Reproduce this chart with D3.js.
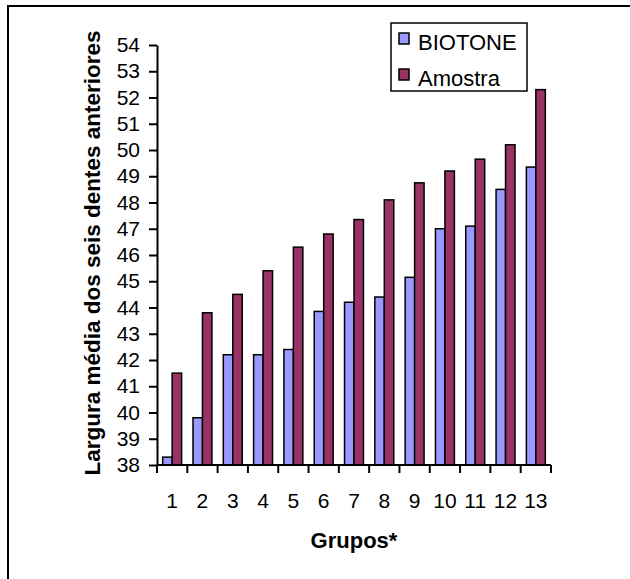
<!DOCTYPE html>
<html>
<head>
<meta charset="utf-8">
<script src="https://cdn.jsdelivr.net/npm/d3@7"></script>
<style>
  html, body { margin: 0; padding: 0; background: #fff; }
  svg { display: block; font-family: "Liberation Sans", Arial, sans-serif; }
</style>
</head>
<body>
<svg id="chart" width="630" height="579"></svg>
<script>
// Groups on the x axis
const groups = ["1","2","3","4","5","6","7","8","9","10","11","12","13"];
// Series names
const seriesNames = ["BIOTONE", "Amostra"];
// Mean width of the six anterior teeth per group
const biotone = [38.3, 39.8, 42.2, 42.2, 42.4, 43.85, 44.2, 44.4, 45.15, 47.0, 47.1, 48.5, 49.35];
const amostra = [41.5, 43.8, 44.5, 45.4, 46.3, 46.8, 47.35, 48.1, 48.75, 49.2, 49.65, 50.2, 52.3];
// Y tick values
const yTicks = d3.range(38, 55, 1);

const colors = { "BIOTONE": "#9999FF", "Amostra": "#993366" };

const svg = d3.select("#chart");

// outer chart frame
svg.append("rect")
  .attr("x", 8).attr("y", 6)
  .attr("width", 700).attr("height", 700)
  .attr("fill", "none").attr("stroke", "#000").attr("stroke-width", 2);

const plot = { left: 157, right: 551, top: 45, bottom: 465 };

const x0 = d3.scaleBand().domain(groups).range([plot.left, plot.right]).padding(0);
const x1 = d3.scaleBand().domain(seriesNames).range([0, x0.bandwidth()])
  .paddingInner(0).paddingOuter(0.6);
const y = d3.scaleLinear().domain([38, 54]).range([plot.bottom, plot.top]);

const rows = groups.map((g, i) => ({ group: g, values: [
  { key: "BIOTONE", value: biotone[i] },
  { key: "Amostra", value: amostra[i] }
]}));

// bars
const gBars = svg.append("g");
gBars.selectAll("g").data(rows).join("g")
  .attr("transform", d => `translate(${x0(d.group)},0)`)
  .selectAll("rect").data(d => d.values).join("rect")
  .attr("x", d => x1(d.key))
  .attr("y", d => y(d.value))
  .attr("width", x1.bandwidth())
  .attr("height", d => y(38) - y(d.value))
  .attr("fill", d => colors[d.key])
  .attr("stroke", "#000").attr("stroke-width", 1.5);

// y axis
const yAxis = svg.append("g")
  .attr("transform", `translate(${plot.left},0)`)
  .call(d3.axisLeft(y).tickValues(yTicks).tickSize(8).tickPadding(9).tickSizeOuter(0));
yAxis.select(".domain").attr("stroke", "#000").attr("stroke-width", 2);
yAxis.selectAll(".tick line").attr("stroke", "#000").attr("stroke-width", 2);
yAxis.selectAll(".tick text").attr("font-size", 21).attr("fill", "#000")
  .attr("font-family", "'Liberation Sans', Arial, sans-serif");

// x axis: tick marks on band edges, labels centred in bands
const xAxisG = svg.append("g");
xAxisG.append("line")
  .attr("x1", plot.left).attr("x2", plot.right)
  .attr("y1", plot.bottom).attr("y2", plot.bottom)
  .attr("stroke", "#000").attr("stroke-width", 2);
const edges = groups.map(g => x0(g)).concat([x0(groups[groups.length - 1]) + x0.bandwidth()]);
xAxisG.selectAll("line.tk").data(edges).join("line")
  .attr("class", "tk")
  .attr("x1", d => d).attr("x2", d => d)
  .attr("y1", plot.bottom).attr("y2", plot.bottom + 8)
  .attr("stroke", "#000").attr("stroke-width", 2);
xAxisG.selectAll("text").data(groups).join("text")
  .attr("x", d => x0(d) + x0.bandwidth() / 2)
  .attr("y", 508)
  .attr("text-anchor", "middle")
  .attr("font-size", 21)
  .text(d => d);

// axis titles
svg.append("text")
  .attr("x", 354).attr("y", 548)
  .attr("text-anchor", "middle")
  .attr("font-size", 22).attr("font-weight", "bold")
  .text("Grupos*");

svg.append("text")
  .attr("transform", "translate(100,253) rotate(-90)")
  .attr("text-anchor", "middle")
  .attr("font-size", 22.5).attr("font-weight", "bold")
  .text("Largura média dos seis dentes anteriores");

// legend
const legend = svg.append("g");
legend.append("rect")
  .attr("x", 391).attr("y", 23).attr("width", 136).attr("height", 68)
  .attr("fill", "#fff").attr("stroke", "#000").attr("stroke-width", 1.5);
const li = legend.selectAll("g.item").data(seriesNames).join("g")
  .attr("class", "item")
  .attr("transform", (d, i) => `translate(0,${i * 36})`);
li.append("rect")
  .attr("x", 399).attr("y", 33).attr("width", 10).attr("height", 11)
  .attr("fill", d => colors[d]).attr("stroke", "#000").attr("stroke-width", 1.5);
li.append("text")
  .attr("x", 418).attr("y", 50)
  .attr("font-size", 22)
  .text(d => d);
</script>
</body>
</html>
